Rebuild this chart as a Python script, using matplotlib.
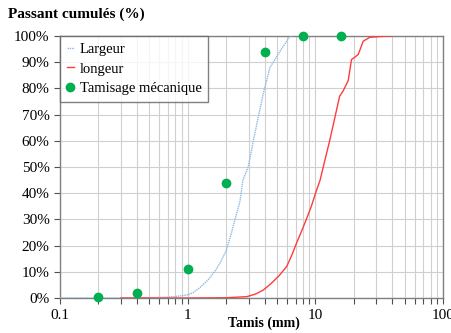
import matplotlib
matplotlib.use("Agg")
import matplotlib.pyplot as plt
from matplotlib.ticker import FixedLocator, LogLocator, NullFormatter, FuncFormatter

plt.rcParams['font.family'] = ['Liberation Serif', 'DejaVu Serif']

# Data
largeur_x = [0.1, 0.3, 0.5, 0.7, 0.85, 1.0, 1.1, 1.25, 1.45, 1.65, 1.8, 2.0, 2.15, 2.35, 2.57, 2.71,
             2.98, 3.3, 3.68, 3.91, 4.41, 4.83, 5.1, 5.6, 6.3, 6.6]
largeur_y = [0.0, 0.0, 0.1, 0.3, 0.7, 1.2, 2.0, 4.0, 7.0, 10.5, 13.5, 18.0, 23.0, 30.0, 37.0, 45.0,
             50.0, 61.0, 72.0, 78.0, 88.0, 91.0, 93.0, 96.0, 99.7, 100.0]

longeur_x = [0.3, 1.0, 2.0, 2.9, 3.4, 3.9, 4.5, 5.2, 5.96, 6.5, 7.13, 7.8, 8.5, 9.3, 10.2, 10.9,
             11.8, 12.8, 13.8, 14.7, 15.5, 16.5, 18.1, 19.2, 20.5, 21.7, 23.7, 26.7, 32.0, 39.5]
longeur_y = [0.0, 0.0, 0.1, 0.5, 1.5, 3.0, 5.5, 8.5, 12.0, 16.0, 21.0, 25.5, 30.0, 35.0, 41.0, 45.0,
             52.0, 59.0, 66.0, 72.0, 77.0, 79.0, 83.0, 91.0, 92.0, 93.0, 98.0, 99.5, 99.8, 100.0]

tamis_x = [0.2, 0.4, 1.0, 2.0, 4.0, 8.0, 16.0]
tamis_y = [0.5, 2.0, 11.0, 44.0, 94.0, 100.0, 100.0]

fig = plt.figure(figsize=(4.52, 3.33), dpi=100)
ax = fig.add_axes([60/452, 1 - 298/333, 383/452, 262/333])

ax.plot(largeur_x, largeur_y, color='#8fb8e3', lw=1.0, ls=(0, (1, 0.6)), label='Largeur', zorder=3)
ax.plot(longeur_x, longeur_y, color='#ff3b3b', lw=1.0, label='longeur', zorder=3)
ax.plot(tamis_x, tamis_y, 'o', color='#00b050', ms=6, label='Tamisage mécanique', zorder=4,
        clip_on=False)

ax.set_xscale('log')
ax.set_xlim(0.1, 100)
ax.set_ylim(0, 100)
ax.xaxis.set_major_locator(FixedLocator([0.1, 1, 10, 100]))
ax.xaxis.set_major_formatter(FuncFormatter(lambda v, p: f'{v:g}'))
ax.xaxis.set_minor_locator(LogLocator(base=10, subs=range(2, 10)))
ax.xaxis.set_minor_formatter(NullFormatter())
ax.set_yticks(range(0, 101, 10))
ax.yaxis.set_major_formatter(FuncFormatter(lambda v, p: f'{int(v)}%'))

ax.grid(True, which='both', axis='x', color='#d0d0d0', lw=0.8)
ax.grid(True, which='major', axis='y', color='#d0d0d0', lw=0.8)
ax.set_axisbelow(True)
for s in ax.spines.values():
    s.set_color('#808080')
    s.set_linewidth(1.0)
ax.tick_params(axis='both', which='both', labelsize=11, colors='#505050', labelcolor='black',
               length=4, width=0.8)
ax.tick_params(axis='x', which='minor', length=4)
ax.tick_params(axis='x', which='major', pad=4)

fig.text(8/452, 1 - 14/333, 'Passant cumulés (%)', fontsize=11, fontweight='bold', va='center', ha='left')
fig.text(264/452, 1 - 323/333, 'Tamis (mm)', fontsize=10, fontweight='bold', va='center', ha='center')

leg = ax.legend(loc='upper left', bbox_to_anchor=(0.0, 1.0), fontsize=10.5, frameon=True, fancybox=False,
                handlelength=0.5, handletextpad=0.4, borderpad=0.45, labelspacing=0.45,
                edgecolor='#606060', borderaxespad=0.0)
leg.get_frame().set_linewidth(1.0)

fig.savefig('out.png', dpi=100)
